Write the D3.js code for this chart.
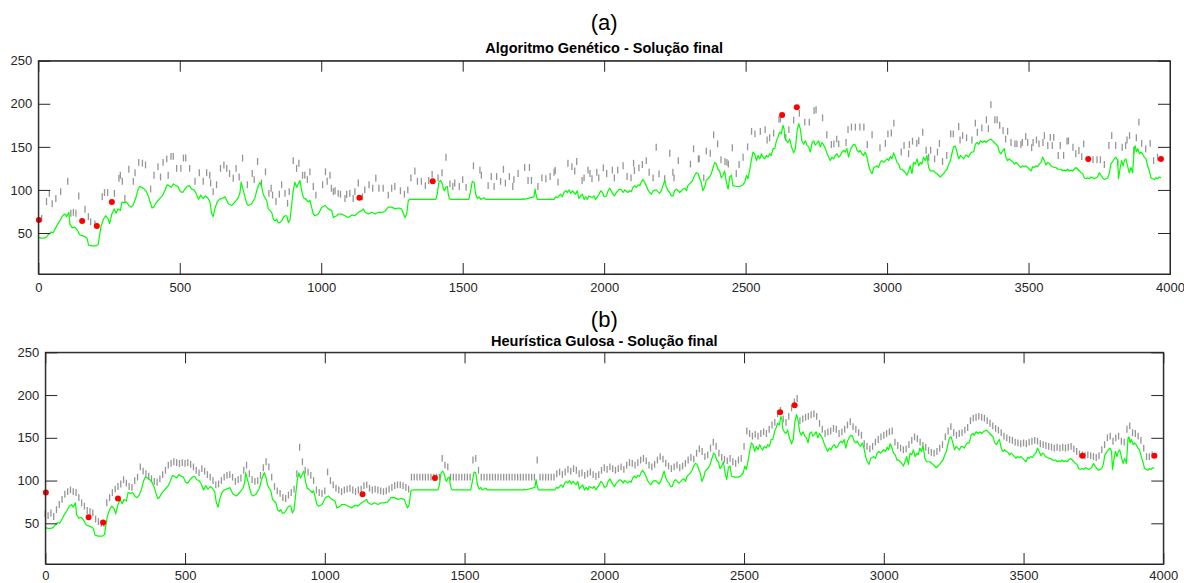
<!DOCTYPE html>
<html><head><meta charset="utf-8">
<script src="https://cdn.jsdelivr.net/npm/d3@7"></script>
<style>body{margin:0;background:#fff;}svg{display:block;}</style>
</head><body>
<svg id="c" width="1184" height="583"></svg>
<script>
// ---------- data ----------
const xTickValues = [0,500,1000,1500,2000,2500,3000,3500,4000];
const yTickValues = [50,100,150,200,250];
const xDomain = [0,4000];
const yDomain = [2.4,250];

const greenX = [0,10,20,28,35,45,52,60,68,76,86,94,100,108,112,120,128,134,140,146,155,164,172,178,190,205,212,216,222,230,238,246,252,260,268,275,282,290,296,304,312,320,328,336,344,352,358,366,374,382,390,396,402,408,416,424,432,440,448,455,462,470,478,486,494,502,510,518,526,534,542,550,558,566,574,582,590,598,606,612,618,624,632,640,648,656,
660,672,684,695,707,713,717,725,731,737,742,754,766,772,778,784,790,795,801,807,813,825,831,837,843,848,854,860,866,872,878,884,890,896,901,907,913,919,925,931,937,943,955,960,966,972,978,990,1002,1013,1025,1037,1043,1055,1061,1072,1084,1096,1108,1119,1131,1143,1149,1155,1167,1178,1190,1202,1214,1225,1237,1249,1261,1273,1284,1296,1302,1308,1314,
1405,1410,1416,1422,1428,1432,1436,1440,1446,1449,1453,1458,1522,1528,1534,1540,1546,1552,1558,1564,1575,1581,1711,1714,1717,1752,1756,1759,1764,1823,1829,1835,1840,1846,1852,1858,1864,1870,1876,1882,1888,1893,1899,1905,1911,1917,1923,1929,1935,1941,1946,1952,1958,1964,1970,1976,1982,1988,1994,2000,2008,2014,2020,
2025,2031,2037,2043,2055,2061,2067,2073,2084,2090,2096,2102,2108,2114,2120,2126,2131,2137,2143,2149,2155,2161,2167,2173,2184,2196,2202,2208,2214,2220,2226,2232,2237,2243,2249,2255,2261,2267,2279,2285,2291,2296,2302,2308,2314,2320,2326,2332,2338,2343,2349,2355,2361,2367,2373,2379,2385,2391,2397,2402,2408,2414,2420,2426,2432,2438,2444,2450,2455,2467,2479,2491,2497,2503,2508,2514,2520,2526,2532,2538,2544,2550,2556,2561,2567,2573,2579,2585,2591,2597,2603,2609,2614,2620,2626,2632,2636,2638,2644,2650,2656,2662,
2670,2676,2682,2688,2693,2699,2705,2711,2717,2723,2729,2735,2741,2746,2752,2758,2764,2770,2776,2782,2788,2794,2799,2805,2811,2817,2823,2829,2835,2841,2847,2852,2858,2864,2870,2876,2882,2888,2894,2900,2905,2911,2917,2923,2929,2935,2941,2947,2953,2959,2964,2970,2976,2982,2988,2994,3000,3006,3012,3017,3023,3029,3035,3041,3047,3053,3059,3065,3070,3076,3082,3088,3094,3100,3106,3112,3118,3123,3129,3135,3141,3147,3153,3159,3165,3171,3176,3182,3188,3194,3200,3206,3212,3218,3224,3229,3235,3241,3247,3253,3259,3265,3271,3277,3282,3288,3294,3300,3306,3312,3318,3324,3330,
3338,3344,3350,3356,3361,3367,3373,3379,3385,3391,3397,3403,3409,3414,3420,3426,3432,3438,3444,3450,3456,3462,3467,3473,3479,3485,3491,3497,3503,3509,3515,3520,3526,3532,3538,3544,3550,3556,3562,3568,3573,3579,3585,3591,3597,3603,3609,3615,3621,3626,3632,3638,3644,3650,3656,3662,3668,3674,3680,3685,3691,3697,3703,3709,3715,3721,3727,3733,3738,3744,3750,3756,3762,3768,3774,3780,3786,3791,3797,3803,3809,3815,3818,3824,3829,3834,3839,3844,3850,3856,3862,3868,3874,3877,3881,3886,3892,3897,3903,3909,3915,3921,3927,3933,3939,3945,3950,3956,3962,3968];
const greenY = [45,44,44,45,48,51,50,55,60,64,70,72,69,74,60,56,57,55,52,48,47,46,44,36,35,35,37,46,58,66,70,67,61,72,78,73,78,76,86,85,86,82,80,83,90,100,104,103,101,98,92,85,79,80,85,88,91,94,100,106,105,103,107,105,104,98,97,101,104,105,101,100,96,89,94,90,93,91,87,74,69,78,86,89,90,91,
92,84,82,86,91,97,109,99,91,84,82,84,91,99,105,109,103,95,91,88,78,74,66,64,66,62,62,64,68,70,70,62,66,84,99,109,103,107,111,99,91,90,86,88,80,72,70,72,80,82,78,76,68,70,72,72,70,68,71,70,74,76,78,74,72,74,72,74,74,75,80,80,78,79,78,68,72,88,89,
89,95,109,111,107,101,99,103,104,95,90,89,89,99,110,109,95,90,92,89,91,89,89,90,89,92,101,95,89,89,92,91,93,95,92,97,99,97,100,96,99,97,95,99,90,93,95,89,92,89,93,92,91,93,89,92,95,99,97,92,93,99,102,
99,95,93,97,101,100,97,100,97,99,98,103,105,103,106,105,109,112,109,105,100,97,95,99,100,96,99,105,111,103,99,97,93,93,99,101,99,97,101,102,99,105,107,109,112,117,120,119,113,109,99,103,111,113,115,119,126,132,130,124,122,114,117,122,109,101,115,117,105,104,104,106,109,117,113,122,134,144,142,134,140,136,142,138,136,140,138,142,140,148,148,157,161,167,165,175,171,161,157,155,159,150,
143,148,169,177,171,157,153,157,152,150,144,155,157,152,154,157,150,155,152,148,142,138,134,138,136,140,142,138,140,144,146,144,148,138,146,150,153,152,146,144,146,142,140,144,138,128,122,119,126,127,128,126,132,134,132,134,136,134,139,136,143,138,132,130,124,124,122,120,117,122,128,119,132,130,136,128,132,130,138,134,140,126,122,122,122,120,119,117,115,117,119,122,124,130,134,142,150,151,144,136,140,138,136,140,140,138,142,144,144,153,155,153,157,
155,157,155,157,158,159,157,155,153,151,144,142,146,148,138,134,136,134,133,130,132,130,128,126,128,127,128,126,124,122,127,126,128,127,130,132,138,134,129,132,131,128,127,126,126,124,124,124,122,123,122,124,122,123,122,124,126,124,122,120,119,114,113,114,113,115,114,113,114,115,120,117,114,112,113,114,120,130,133,136,138,134,113,126,134,128,134,136,128,120,126,120,150,151,144,148,142,144,142,138,136,128,122,114,113,112,114,113,115,114];

// gray marks, panel (a): positions and centre values
const tickAX = [12,29,39,49,62,79,104,115,124,133,143,165,177,185,200,226,234,245,269,285,290,297,306,320,336,342,355,368,379,397,409,423,432,441,454,459,469,477,489,504,513,521,535,554,569,583,595,606,609,618,630,644,656,666,676,689,699,710,722,739,756,763,775,789,803,815,823,828,840,852,860,872,881,887,901,913,921,934,942,951,960,972,981,1005,1015,1021,1031,1036,1043,1049,1060,1068,1084,1090,1101,1113,1119,1131,1146,1154,1169,1182,1193,1204,1219,1237,1249,1260,1280,1294,1306,1317,1331,
1340,1354,1368,1380,1392,1413,1427,1441,1455,1465,1472,1488,1500,1512,1538,1561,1566,1590,1601,1611,1620,1634,1644,1651,1665,1677,1681,1696,1719,1731,1736,1743,1766,1780,1794,1809,1823,1827,1837,1872,1886,1896,1903,1922,1929,1943,1950,1957,1974,1981,1997,2009,
2029,2036,2048,2067,2081,2095,2104,2107,2123,2135,2149,2159,2173,2184,2194,2214,2232,2243,2247,2262,2305,2316,2333,2336,2352,2361,2375,2387,2401,2413,2427,2434,2439,2453,2467,2477,2491,2507,2521,2533,2552,2569,2576,2585,2599,2618,2623,2642,2653,2670,
2690,2709,2725,2742,2749,2772,2787,2803,2812,2822,2829,2855,2862,2874,2888,2904,2918,2930,2947,2975,2994,3003,3015,3024,3050,3060,3076,3079,3090,3105,3112,3126,3138,3147,3154,3168,3178,3185,3196,3211,3225,3234,3253,3258,3267,3281,3300,3312,3319,3335,
3351,3358,3367,3381,3389,3398,3410,3419,3426,3438,3452,3459,3473,3478,3490,3497,3511,3516,3528,3537,3551,3556,3568,3577,3584,3589,3605,3612,3624,3636,3641,3657,3667,3678,3688,3695,3728,3742,3754,3768,3784,3794,3808,3815,3831,3843,3848,3857,3872,3881,3890,3900,3914,3930,3942,3956];
const tickAY = [67,86.5,96,84,90,98,110,73,74,73,93,77.5,69,63,60.5,92,97,97,96,113.5,117,110,90,124,110,120,132,131,129,101,117,127,115,132,136,117,139,139,125,125,137,137,125,110,120,110,120,117,108,98,106,125,129,125,119,113.5,125,115,137,106,119,112,133,108,121,96,102,94,86.5,95,106,96,84.5,98,134,125,131,117,117,112,121,104,94,106,121,110,117,102,98,99,96,95,90,95,96,90,98,108,92,100,106,102,113.5,102,102,94,102,104,99,95,100,114,122,
110,110,105,111,118,114,120,138,107,104,108,104,112,103,128,123,117,105,115.5,104,115.5,110,124,108,115.5,104,112,119,126,111,126,111,104,114,113,115.5,120.5,122.5,109,131,127,122,133,111,114,123,119,113,120.5,114,125.6,119,
123,114,123,128,115.5,114,131,122.5,125.6,129.5,134,120.5,114,149.6,118.6,113,142.6,120.5,114,134,130,147.7,136,136,114,145,142.6,164,153.5,135,133,132,130,149,119,129.5,138,150,168,165,168,170,158,160.5,166,182,182.6,161,170,181,
189,178.7,178.7,192,193,183.7,164,152.7,153.5,159,153.5,155,170,173,173,173,173,152.7,164,149,154,165,166,177.5,144,151.5,142,152.7,156.6,154,157,167,146,138,146,136,144,154,133,140,165,165,173.6,158,163,160.5,158,177.5,167,172,
181.4,171,199,181.4,181.4,175,169,159,168,155,153.5,153.5,152.7,155,162,155,149,155,158,153.5,155,163,151.5,161,151.5,161,140,151.5,140,156.6,157,149.6,142,145.7,138.7,153.5,135,135,135,129.5,151.5,163,151.5,132,149.6,151.5,158,163,145.7,160.5,178.7,154,147.7,154,134,138];

// gray marks, panel (b): one mark every tickBStep units, centre values
const tickBStep = 10;
const tickBY = [61,59,62,58,66,72,78,84,87,89,
87,86,80,74,70,65,64,62,55,52,
50,50,74,80,86,90,93,96,101,97,
93,92,100,104,116,111,108,105,102,99,
98,102,107,112,118,120,122,121,120,121,
120,121,119,116,112,109,114,111,107,104,
100,95,96,100,104,106,107,104,99,101,
103,112,118,108,101,99,100,106,115,122,
116,104,93,88,85,80,79,83,86,90,
108,139,122,112,110,106,100,89,86,85,
88,110,100,95,91,89,87,89,90,91,
89,87,89,90,94,95,91,89,90,89,
88,87,88,90,92,94,95,95,94,92,
90,104,104,104,104,104,104,104,104,104,
104,104,126,118,116,104,104,104,104,104,
104,104,104,124,126,112,104,104,104,104,
104,104,104,104,104,104,104,104,104,104,
104,104,104,104,104,104,124,104,104,104,
104,104,104,108,110,107,110,113,111,114,
112,108,109,106,108,110,107,105,107,112,
115,113,116,114,112,114,116,113,118,121,
120,118,121,124,126,123,118,116,119,124,
128,125,120,117,114,116,118,115,117,120,
124,127,125,132,137,134,128,130,138,145,
140,132,127,125,123,126,122,120,124,126,
140,158,155,152,154,152,155,157,155,160,
165,168,178,182,172,168,175,185,192,196,
170,172,174,175,177,178,175,167,160,155,
157,158,161,160,155,157,160,165,169,163,
160,156,153,143,140,137,140,145,148,151,
153,155,157,158,145,141,138,136,137,142,
147,151,149,145,141,139,135,133,132,134,
138,142,151,158,163,156,153,155,156,159,
162,170,173,174,175,174,173,170,167,164,
161,159,156,152,150,148,147,145,144,143,
144,143,145,146,147,146,143,142,141,140,
139,138,139,138,139,138,139,140,137,134,
131,130,129,130,129,128,127,129,136,142,
150,152,146,150,152,146,145,160,164,156,
155,152,147,138,128,128,130];

// red markers
const redX = [2,155,207,260,1135,1394,2629,2681,3711,3968];
const redAY = [65,64,58,86,91,110,187,196,136,136];
const redBY = [86,57,51,79,84,103,180,188,129,129];

const panelLabels = ["(a)","(b)"];
const panelTitles = ["Algoritmo Genético - Solução final","Heurística Gulosa - Solução final"];

// ---------- drawing ----------
const svg = d3.select("#c");
const FONT = "'Liberation Sans', Arial, Helvetica, sans-serif";
const AX = "#262626";

const layout = [
  {left:38.3, right:1170, top:60.7, bottom:274, labelY:22, titleY:48, pad:9},
  {left:45.3, right:1163.3, top:352.3, bottom:564, labelY:319, titleY:340.5, pad:7}
];

const tickBX = tickBY.map((d,i)=>i*tickBStep);
const panels = [
  {tx:tickAX, ty:tickAY, ry:redAY},
  {tx:tickBX, ty:tickBY, ry:redBY}
];

panels.forEach((p,pi)=>{
  const L = layout[pi];
  const x = d3.scaleLinear().domain(xDomain).range([L.left, L.right]);
  const y = d3.scaleLinear().domain(yDomain).range([L.bottom, L.top]);
  const g = svg.append("g");

  // gray marks
  g.append("g").selectAll("line").data(p.tx.map((v,i)=>[v,p.ty[i]])).join("line")
    .attr("x1",d=>x(d[0])).attr("x2",d=>x(d[0]))
    .attr("y1",d=>y(d[1]-4)).attr("y2",d=>y(d[1]+4))
    .attr("stroke","#959595").attr("stroke-width",1.3);

  // green line
  const line = d3.line().x(d=>x(d[0])).y(d=>y(d[1]));
  g.append("path").datum(greenX.map((v,i)=>[v,greenY[i]]))
    .attr("d",line).attr("fill","none").attr("stroke","#00ff00").attr("stroke-width",1.2)
    .attr("stroke-linejoin","round");

  // red dots
  g.append("g").selectAll("circle").data(redX.map((v,i)=>[v,p.ry[i]])).join("circle")
    .attr("cx",d=>x(d[0])).attr("cy",d=>y(d[1])).attr("r",3).attr("fill","#ff0000");

  // axes (box with inward ticks)
  const fmt = d3.format("d");
  const styleAxis = sel => {
    sel.selectAll("path").attr("stroke",AX).attr("stroke-width",1);
    sel.selectAll("line").attr("stroke",AX).attr("stroke-width",1);
    sel.selectAll("text").attr("fill",AX).style("font-family",FONT).style("font-size","13px");
  };
  g.append("g").attr("transform",`translate(0,${L.bottom})`)
    .call(d3.axisBottom(x).tickValues(xTickValues).tickFormat(fmt).tickSizeInner(-11).tickSizeOuter(0).tickPadding(L.pad))
    .call(styleAxis);
  g.append("g").attr("transform",`translate(0,${L.top})`)
    .call(d3.axisTop(x).tickValues(xTickValues).tickFormat("").tickSizeInner(-11).tickSizeOuter(0))
    .call(styleAxis);
  g.append("g").attr("transform",`translate(${L.left},0)`)
    .call(d3.axisLeft(y).tickValues(yTickValues).tickFormat(fmt).tickSizeInner(-12).tickSizeOuter(0).tickPadding(6))
    .call(styleAxis);
  g.append("g").attr("transform",`translate(${L.right},0)`)
    .call(d3.axisRight(y).tickValues(yTickValues).tickFormat("").tickSizeInner(-12).tickSizeOuter(0))
    .call(styleAxis);
  g.append("rect").attr("x",L.left).attr("y",L.top).attr("width",L.right-L.left).attr("height",L.bottom-L.top)
    .attr("fill","none").attr("stroke",AX).attr("stroke-width",1);

  // labels
  svg.append("text").attr("x",(L.left+L.right)/2).attr("y",L.labelY)
    .attr("text-anchor","middle").attr("dominant-baseline","central")
    .style("font-family",FONT).style("font-size","22px").attr("fill","#000").text(panelLabels[pi]);
  svg.append("text").attr("x",(L.left+L.right)/2).attr("y",L.titleY)
    .attr("text-anchor","middle").attr("dominant-baseline","central")
    .style("font-family",FONT).style("font-size","14.5px").style("font-weight","bold").attr("fill","#000").text(panelTitles[pi]);
});
</script>
</body></html>
